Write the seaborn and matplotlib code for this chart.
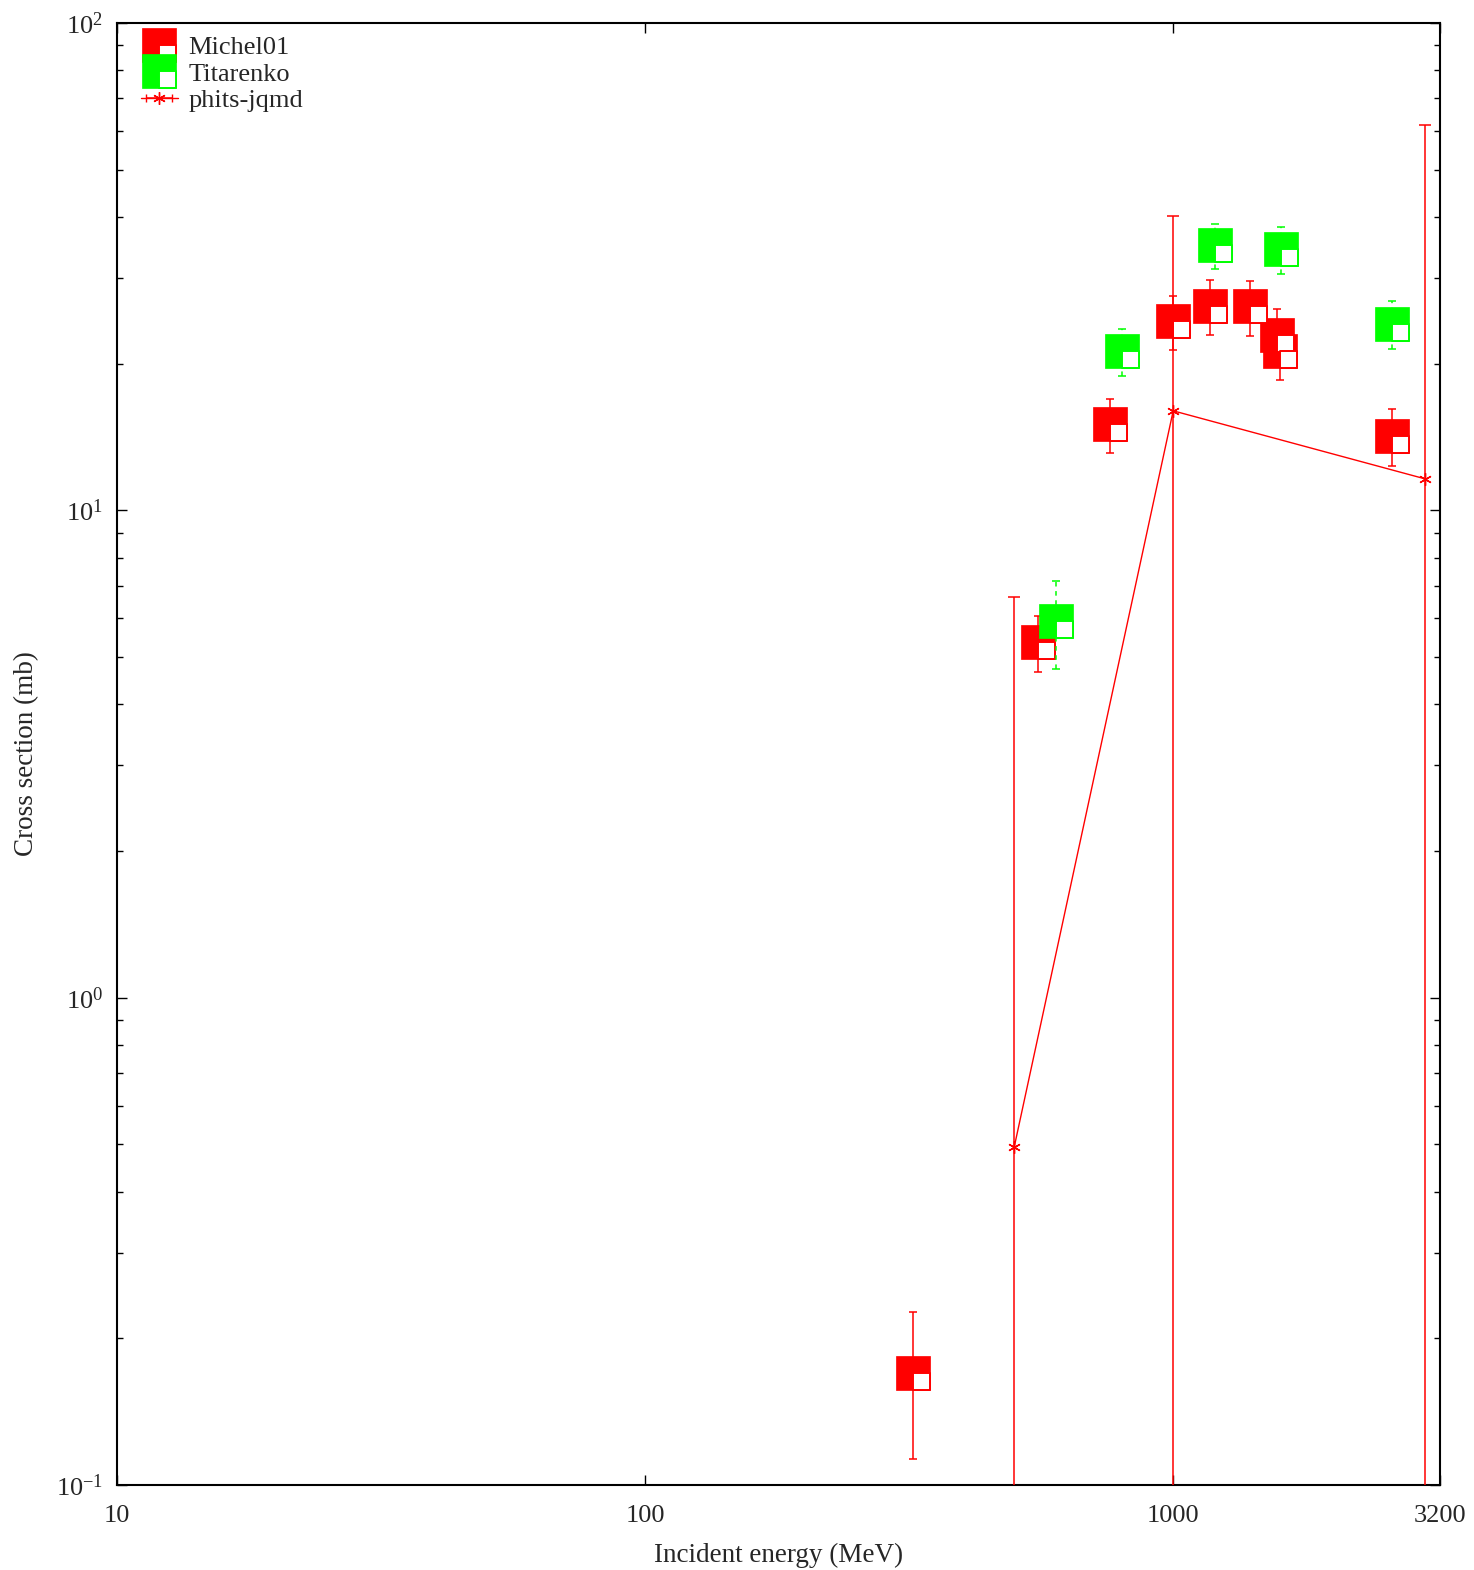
import numpy as np
import matplotlib
matplotlib.use("Agg")
import matplotlib.pyplot as plt
import seaborn as sns
from matplotlib.path import Path
from matplotlib.lines import Line2D
from matplotlib.legend_handler import HandlerTuple
from matplotlib.ticker import FixedLocator, NullLocator, LogFormatterSciNotation

# data
michel_e = [322, 555, 760, 1000, 1175, 1400, 1575, 1590, 2600]
michel_xs = [0.170, 5.36, 15.0, 24.4, 26.3, 26.2, 22.9, 21.2, 14.2]
michel_err = [0.057, 0.71, 1.9, 3.1, 3.4, 3.4, 3.0, 2.7, 1.9]

tit_e = [600, 800, 1200, 1600, 2600]
tit_xs = [5.94, 21.2, 35.0, 34.4, 24.15]
tit_err = [1.22, 2.3, 3.7, 3.8, 2.7]

phits_e = [500, 1000, 3000]
phits_xs = [0.494, 16.0, 11.6]
phits_err = [6.14, 24.2, 50.1]

xticks = [10, 100, 1000, 3200]
yticks = [0.1, 1, 10, 100]

sns.set_style("ticks")
plt.rcParams['font.family'] = ['Liberation Serif', 'DejaVu Serif']
plt.rcParams['mathtext.fontset'] = 'stix'
plt.rcParams['axes.unicode_minus'] = False

RED = '#ff0000'
GREEN = '#00ff00'
MS = 24
FS = 19

# gnuplot style box with an empty lower right quarter
quarter = Path([(0, 0), (1, 0), (1, -1), (0, -1), (0, 0)],
               [Path.MOVETO, Path.LINETO, Path.LINETO, Path.LINETO, Path.CLOSEPOLY])

fig = plt.figure(figsize=(14.74, 15.70), dpi=100)
ax = fig.add_axes([0.0794, 0.0541, 0.8975, 0.9313])
ax.set_xscale('log')
ax.set_yscale('log')

def box_series(x, y, err, color, dashed=False, z=2):
    eb = ax.errorbar(x, y, yerr=err, fmt='none', ecolor=color, elinewidth=1.1,
                     capsize=3, capthick=1.1, zorder=z)
    if dashed:
        eb[2][0].set_linestyle((0, (3, 3)))
    ax.plot(x, y, ls='none', marker='s', ms=MS, mfc=color, mec=color, mew=0.5, zorder=z + 0.1)
    ax.plot(x, y, ls='none', marker=quarter, ms=MS, mfc='white', mec=color, mew=1.4, zorder=z + 0.2)

box_series(michel_e, michel_xs, michel_err, RED, z=2)
box_series(tit_e, tit_xs, tit_err, GREEN, dashed=True, z=3)

# phits-jqmd line
ax.errorbar(phits_e, phits_xs, yerr=phits_err, fmt='none', ecolor=RED, elinewidth=1.1,
            capsize=4, capthick=1.1, zorder=4)
sns.lineplot(x=phits_e, y=phits_xs, ax=ax, color=RED, lw=1.0, marker=(6, 2, 0),
             markersize=9, markeredgecolor=RED, markeredgewidth=1.0, zorder=5)

ax.set_xlim(10, 3200)
ax.set_ylim(0.1, 100)

ax.xaxis.set_major_locator(FixedLocator(xticks))
ax.xaxis.set_minor_locator(NullLocator())
ax.set_xticklabels([str(v) for v in xticks])
ax.yaxis.set_major_locator(FixedLocator(yticks))
ax.yaxis.set_major_formatter(LogFormatterSciNotation())
ax.yaxis.set_minor_locator(FixedLocator([m * 10.0 ** k for k in range(-1, 2) for m in range(2, 10)]))

ax.tick_params(which='both', direction='in', top=True, right=True, color='black', labelsize=FS)
ax.tick_params(which='major', length=7, width=1.0)
ax.tick_params(which='minor', length=4, width=1.0)
ax.tick_params(axis='x', pad=14)
ax.tick_params(axis='y', pad=10)
for s in ax.spines.values():
    s.set_linewidth(1.5)
    s.set_color('black')

ax.set_xlabel('Incident energy (MeV)', fontsize=19.5, labelpad=12)
ax.set_ylabel('Cross section (mb)', fontsize=19.5, labelpad=12)

# legend
def box_handle(color):
    sq = Line2D([], [], ls='none', marker='s', ms=MS, mfc=color, mec=color, mew=0.5)
    qu = Line2D([], [], ls='none', marker=quarter, ms=MS, mfc='white', mec=color, mew=1.4)
    return (sq, qu)

dummy = ax.errorbar([np.nan], [np.nan], xerr=[1], fmt='-', color=RED, lw=1.0,
                    marker=(6, 2, 0), ms=9, capsize=3, elinewidth=1.1)
ax.legend([box_handle(RED), box_handle(GREEN), dummy],
          ['Michel01', 'Titarenko', 'phits-jqmd'],
          handler_map={tuple: HandlerTuple(ndivide=1)},
          loc='upper left', bbox_to_anchor=(0.004, 1.004), frameon=False,
          fontsize=FS, handlelength=1.4, handletextpad=0.4, labelspacing=0.12,
          borderaxespad=0.3)

fig.savefig('out.png', dpi=100)
